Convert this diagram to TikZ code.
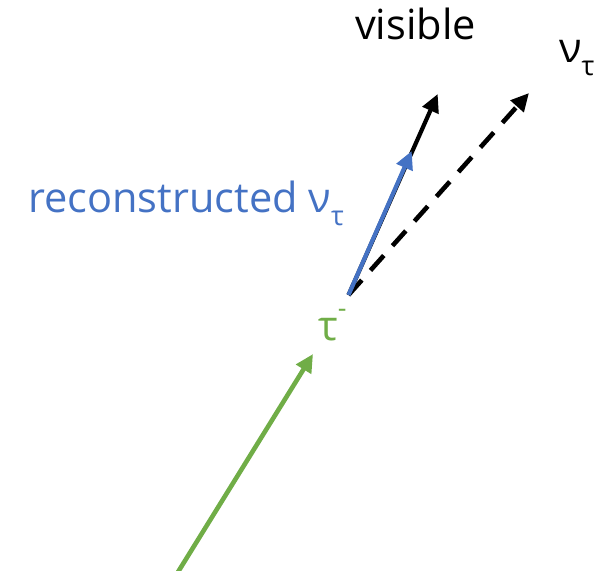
\documentclass[tikz,border=0pt]{standalone}
\usepackage{fontspec}
\setmainfont{Open Sans}
\usetikzlibrary{arrows.meta}
\definecolor{recoblue}{HTML}{4472C4}
\definecolor{taugreen}{HTML}{70AD47}
\newcommand{\lowsub}[1]{\raisebox{-0.32em}{\fontsize{27}{27}\selectfont #1}}
\newcommand{\highsup}[1]{\raisebox{0.55em}{\fontsize{27}{27}\selectfont #1}}
\tikzset{
  vec/.style={line width=4.2pt, -{Triangle[length=18pt,width=17pt]}},
  lbl/.style={inner sep=0pt, anchor=base, font=\fontsize{41.5}{41.5}\selectfont},
}
\begin{document}
\begin{tikzpicture}[x=1pt, y=-1pt]
  \useasboundingbox (0,0) rectangle (607,570);
  % decay vertex and end points of the momentum vectors
  \coordinate (vtx) at (348.5,295);
  \coordinate (vistip) at (437.7,94);
  \coordinate (nutip) at (529,93);
  \coordinate (recotip) at (411.7,151);
  \coordinate (taustart) at (178,572);
  \coordinate (tautip) at (313,354);
  % labels
  \node[lbl] (visible) at (415.5,39) {visible};
  \node[lbl, anchor=base west] (nu) at (559,62) {ν\lowsub{τ}};
  \node[lbl, anchor=base west, text=recoblue] (reco) at (28,212) {reconstructed ν\lowsub{τ}};
  \node[lbl, anchor=base west, text=taugreen] (tau) at (318,340) {τ\highsup{-}};
  % vectors
  \draw[vec, line width=4.6pt, dash pattern=on 20pt off 13pt] (vtx) -- (nutip);
  \draw[vec] (vtx) -- (vistip);
  \draw[vec, recoblue] (vtx) -- (recotip);
  \draw[vec, taugreen, line width=4.6pt] (taustart) -- (tautip);
\end{tikzpicture}
\end{document}
